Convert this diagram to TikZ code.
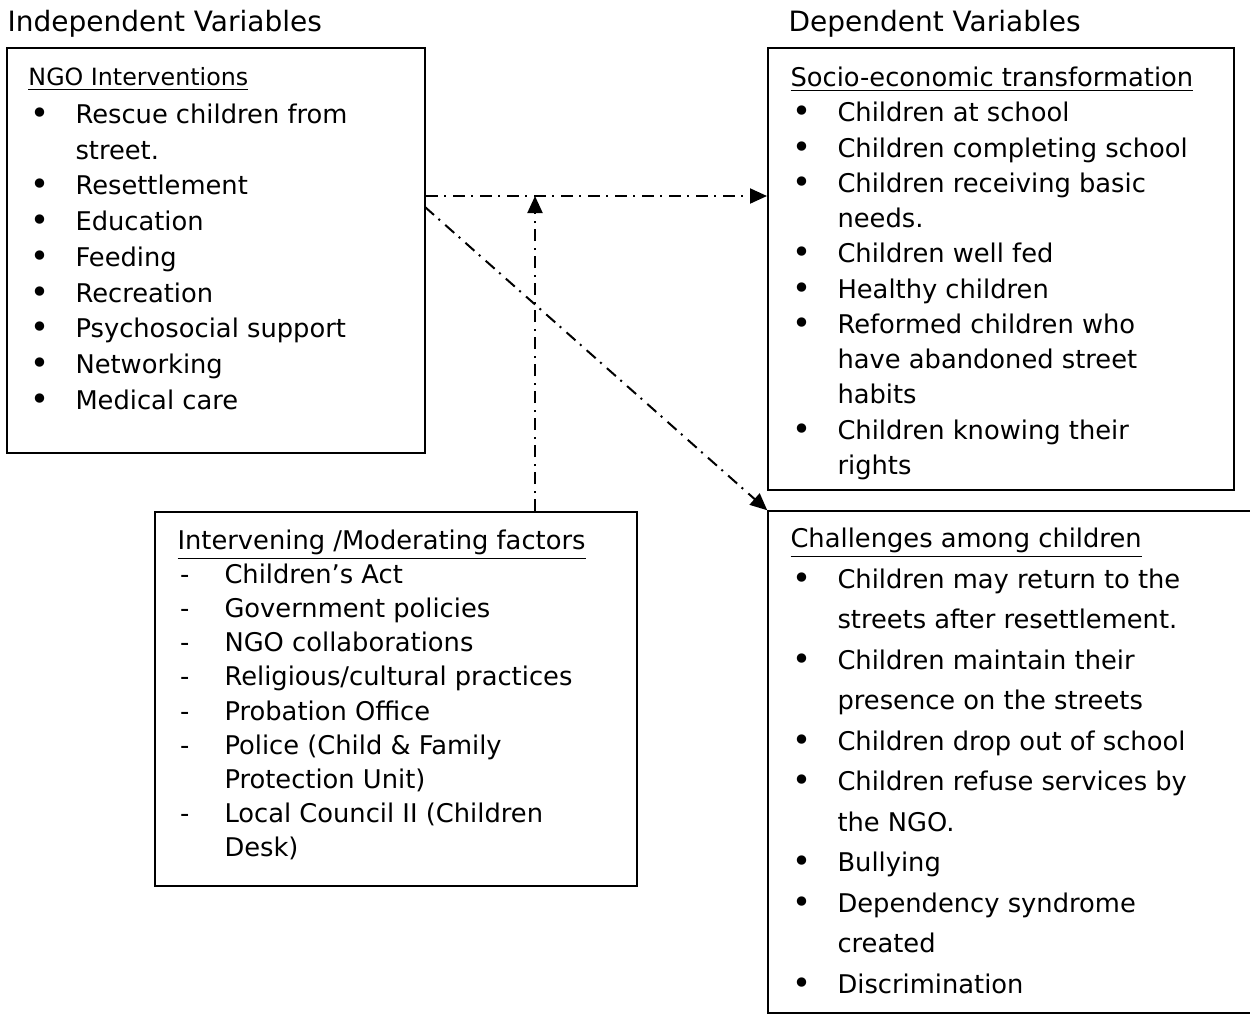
\documentclass[tikz,border=0pt]{standalone}
\usepackage{fontspec}
\setmainfont{DejaVu Sans}
\usetikzlibrary{arrows.meta,fit}
\newcommand{\bul}{\makebox[18.8pt][l]{\hspace{0.6pt}\raisebox{-0.4pt}{\scalebox{1.25}{\textbullet}}}}
\newcommand{\dsh}{\makebox[18.8pt][l]{\hspace{1pt}-}}
\newcommand{\cont}{\hspace*{18.8pt}}
\newcommand{\hd}[1]{\rule{0pt}{10pt}\underline{#1}}

\begin{document}
\begin{tikzpicture}[x=0.4pt,y=-0.4pt,
  box/.style={draw,line width=0.8pt,inner sep=0pt},
  list/.style={anchor=north west,inner sep=0pt,align=left},
  flow/.style={line width=0.8pt,dash pattern=on 4.8pt off 2.4pt on 0.8pt off 2.8pt,
    -{Triangle[length=6.8pt,width=6pt]}}]
\useasboundingbox (0,0) rectangle (1250,1014);
\begin{scope}[font=\fontsize{11.2}{13}\selectfont]
\node[anchor=base west,inner sep=0pt] (indep) at (7,31) {Independent Variables};
\node[anchor=base west,inner sep=0pt] (dep) at (788,31) {Dependent Variables};
\end{scope}
\node[box,fit={(7,48) (425,453)}] (ngo) {};
\node[box,fit={(768,48) (1234,490)}] (socio) {};
\node[box,fit={(155,512) (637,886)}] (factors) {};
\node[box,line width=0.6pt,fit={(768,511) (1262,1013)}] (chal) {};
\node[list,font=\fontsize{10.3}{14.3}\selectfont] (ngotext) at (28,60) {%
  {\fontsize{9.5}{14.3}\selectfont\hd{NGO Interventions}}\\[0.8pt]
  \bul Rescue children from\\
  \cont street.\\
  \bul Resettlement\\
  \bul Education\\
  \bul Feeding\\
  \bul Recreation\\
  \bul Psychosocial support\\
  \bul Networking\\
  \bul Medical care};
\node[list,font=\fontsize{10.3}{14.1}\selectfont] (sociotext) at (790,61) {%
  \hd{Socio-economic transformation}\\
  \bul Children at school\\
  \bul Children completing school\\
  \bul Children receiving basic\\
  \cont needs.\\
  \bul Children well fed\\
  \bul Healthy children\\
  \bul Reformed children who\\
  \cont have abandoned street\\
  \cont habits\\
  \bul Children knowing their\\
  \cont rights};
\node[list,font=\fontsize{10.3}{13.64}\selectfont] (factorstext) at (177,524) {%
  \hd{Intervening /Moderating factors}\\
  \dsh Children’s Act\\
  \dsh Government policies\\
  \dsh NGO collaborations\\
  \dsh Religious/cultural practices\\
  \dsh Probation Office\\
  \dsh Police (Child \& Family\\
  \cont Protection Unit)\\
  \dsh Local Council II (Children\\
  \cont Desk)};
\node[list,font=\fontsize{10.3}{16.2}\selectfont] (chaltext) at (790,522) {%
  \hd{Challenges among children}\\
  \bul Children may return to the\\
  \cont streets after resettlement.\\
  \bul Children maintain their\\
  \cont presence on the streets\\
  \bul Children drop out of school\\
  \bul Children refuse services by\\
  \cont the NGO.\\
  \bul Bullying\\
  \bul Dependency syndrome\\
  \cont created\\
  \bul Discrimination};
\coordinate (jn) at (535,196);
\coordinate (dg) at (425,207);
\draw[flow] (ngo.east |- jn) -- (socio.west |- jn);
\draw[flow] (factors.north -| jn) -- (jn);
\draw[flow] (dg) -- (chal.north west);
\end{tikzpicture}
\end{document}
